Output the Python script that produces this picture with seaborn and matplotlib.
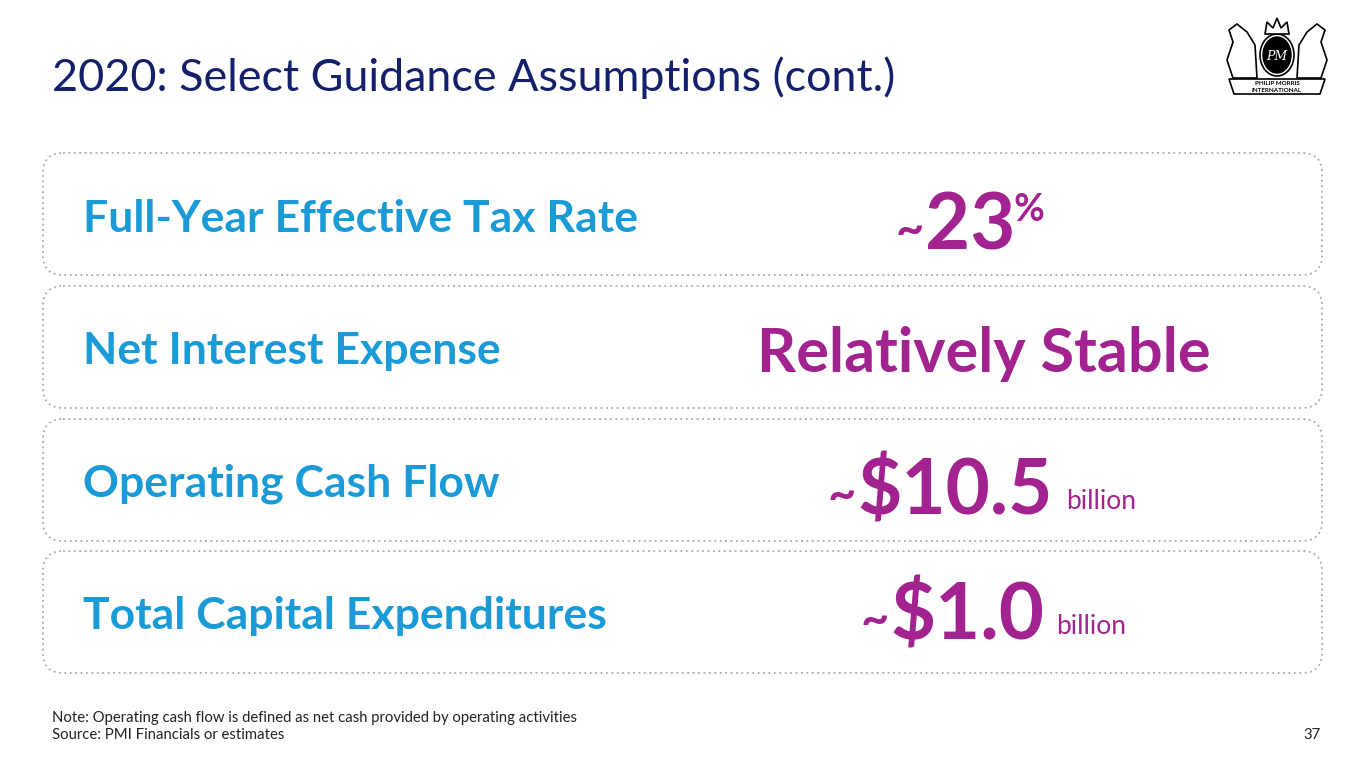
import matplotlib
matplotlib.use("Agg")
import matplotlib.pyplot as plt
import seaborn as sns
from matplotlib.patches import FancyBboxPatch, Ellipse, Polygon

# Slide content
title = "2020: Select Guidance Assumptions (cont.)"
labels = ["Full-Year Effective Tax Rate", "Net Interest Expense",
          "Operating Cash Flow", "Total Capital Expenditures"]
prefixes = ["~", "", "~", "~"]
values = ["23", "Relatively Stable", "$10.5", "$1.0"]
suffixes = ["%", "", "billion", "billion"]
note = "Note: Operating cash flow is defined as net cash provided by operating activities"
source = "Source: PMI Financials or estimates"
page = "37"

NAVY = "#14206b"
BLUE = "#1a9ad6"
PURPLE = "#a2228f"
GREY = "#a8a8a8"

sns.set_theme(style="white")
plt.rcParams["font.family"] = ["Lato", "DejaVu Sans"]

fig = plt.figure(figsize=(13.65, 7.68), dpi=100)
ax = fig.add_axes([0, 0, 1, 1])
ax.set_xlim(0, 1365)
ax.set_ylim(768, 0)
ax.axis("off")

ax.text(52, 91, title, fontsize=32.3, color=NAVY, va="baseline", ha="left")

box_top = [153, 286, 419, 551]
box_h = 122
label_base = [232, 364, 497, 629]
value_base = [250, 372, 515, 640]
value_x = [925, 757, 857, 890]
value_size = [56, 44, 55, 56]
suffix_gap = [-2, 0, 14, 12]

fig.canvas.draw()
renderer = fig.canvas.get_renderer()

for i, lab in enumerate(labels):
    box = FancyBboxPatch((43, box_top[i]), 1279, box_h,
                         boxstyle="round,pad=0,rounding_size=20",
                         facecolor="white", edgecolor=GREY,
                         linewidth=1.3, linestyle=(0, (1, 2)))
    ax.add_patch(box)
    ax.text(83, label_base[i], lab, fontsize=32, fontweight="bold",
            color=BLUE, va="baseline", ha="left")

    main = ax.text(value_x[i], value_base[i], values[i], fontsize=value_size[i],
                   fontweight="bold", color=PURPLE, va="baseline", ha="left")
    if prefixes[i]:
        ax.text(value_x[i] - 1, value_base[i] - 5, prefixes[i], fontsize=35,
                fontweight="bold", color=PURPLE, va="baseline", ha="right")
    if suffixes[i]:
        w = main.get_window_extent(renderer).width
        if suffixes[i] == "%":
            ax.text(value_x[i] + w + suffix_gap[i], value_base[i] - 29, suffixes[i],
                    fontsize=27, fontweight="bold", color=PURPLE,
                    va="baseline", ha="left")
        else:
            ax.text(value_x[i] + w + suffix_gap[i], value_base[i] - 6, suffixes[i],
                    fontsize=19, color=PURPLE, va="baseline", ha="left")

ax.text(52, 722, note, fontsize=10.7, color="#222222", va="baseline", ha="left")
ax.text(52, 739, source, fontsize=10.7, color="#222222", va="baseline", ha="left")
ax.text(1321, 739, page, fontsize=10.7, color="#222222", va="baseline", ha="right")

# simple stand-in for the company crest
lx, ly = 1277, 55
ax.add_patch(Ellipse((lx, ly), 28, 36, facecolor="black", edgecolor="black"))
ax.add_patch(Ellipse((lx, ly), 34, 42, facecolor="none", edgecolor="black", linewidth=1.2))
ax.text(lx, ly + 1, "PM", fontsize=9, color="white", ha="center", va="center",
        fontstyle="italic", family="DejaVu Serif")
ax.add_patch(Polygon([[lx - 12, 34], [lx - 10, 22], [lx - 4, 28], [lx, 18],
                      [lx + 4, 28], [lx + 10, 22], [lx + 12, 34]],
                     closed=True, facecolor="white", edgecolor="black", linewidth=1.2))
for side in (-1, 1):
    ax.add_patch(Polygon([[lx + side * 20, 78], [lx + side * 22, 45],
                          [lx + side * 30, 32], [lx + side * 40, 24],
                          [lx + side * 48, 30], [lx + side * 44, 42],
                          [lx + side * 50, 60], [lx + side * 44, 78]],
                         closed=True, facecolor="white", edgecolor="black", linewidth=1.2))
ax.add_patch(Polygon([[1229, 79], [1325, 79], [1320, 94], [1234, 94]],
                     closed=True, facecolor="white", edgecolor="black", linewidth=1.2))
ax.text(lx, 83.5, "PHILIP MORRIS", fontsize=4.5, ha="center", va="center",
        color="black", fontweight="bold")
ax.text(lx, 90, "INTERNATIONAL", fontsize=4.5, ha="center", va="center",
        color="black", fontweight="bold")

fig.savefig("out.png", dpi=100, facecolor="white")
